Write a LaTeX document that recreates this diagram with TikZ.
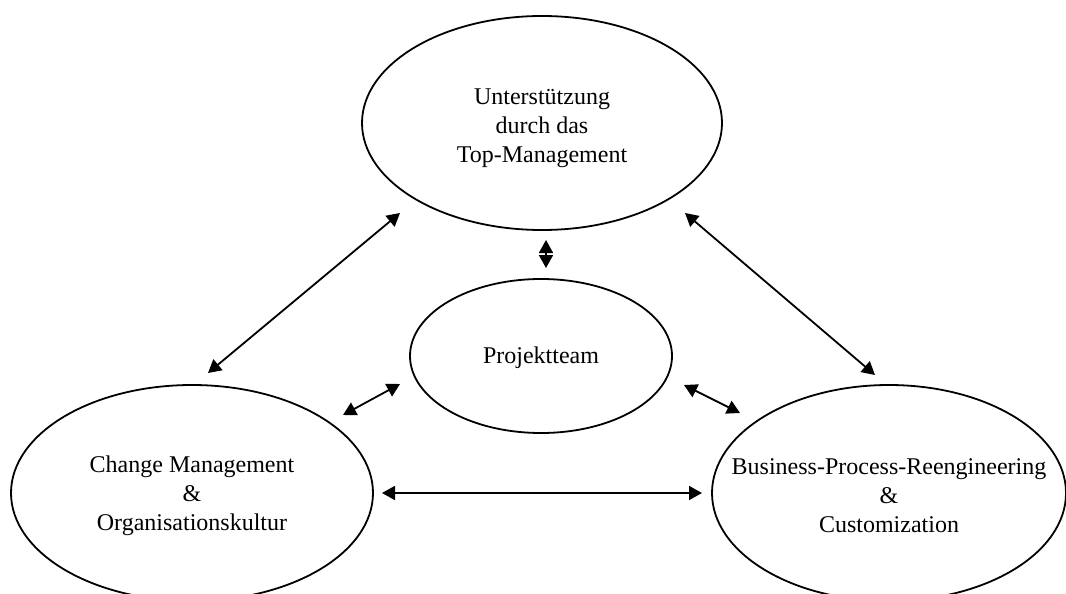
\documentclass[tikz,border=0pt]{standalone}
\usepackage{fontspec}
\setmainfont{Liberation Serif}
\usetikzlibrary{shapes.geometric,arrows.meta}
\tikzset{
  oval/.style={draw=black, line width=1.8pt, ellipse, inner sep=0pt},
  txt/.style={align=center, inner sep=0pt, font=\fontsize{24}{29}\selectfont},
  link/.style={line width=1.8pt, {Triangle[length=13pt,width=14pt]}-{Triangle[length=13pt,width=14pt]}}
}
\begin{document}
\begin{tikzpicture}[x=1pt,y=-1pt]
\useasboundingbox (0,0) rectangle (1066,594);
\node[oval, minimum width=360pt, minimum height=214pt] (top) at (542,123) {};
\node[txt, yshift=-5pt] (topT) at (top.center) {Unterstützung\\durch das\\Top-Management};
\node[oval, minimum width=262pt, minimum height=154pt] (team) at (541,356) {};
\node[txt, yshift=-2pt] (teamT) at (team.center) {Projektteam};
\node[oval, minimum width=362pt, minimum height=216pt] (left) at (192,493) {};
\node[txt, yshift=-3pt] (leftT) at (left.center) {Change Management\\\&\\Organisationskultur};
\node[oval, minimum width=354pt, minimum height=216pt] (right) at (889,493) {};
\node[txt, yshift=-3pt] (rightT) at (right.center) {Business-Process-Reengineering\\\&\\Customization};
\coordinate (tlA) at (400,213);
\coordinate (tlB) at (208,373);
\coordinate (trA) at (685,213);
\coordinate (trB) at (875,375);
\coordinate (vA) at (546,240);
\coordinate (vB) at (546,268);
\coordinate (lcA) at (343,415);
\coordinate (lcB) at (400,384);
\coordinate (rcA) at (684,385);
\coordinate (rcB) at (740,413);
\coordinate (hA) at (382,493);
\coordinate (hB) at (702,493);
\draw[link] (tlA) -- (tlB);
\draw[link] (trA) -- (trB);
\draw[link] (vA) -- (vB);
\draw[link] (lcA) -- (lcB);
\draw[link] (rcA) -- (rcB);
\draw[link] (hA) -- (hB);
\end{tikzpicture}
\end{document}
